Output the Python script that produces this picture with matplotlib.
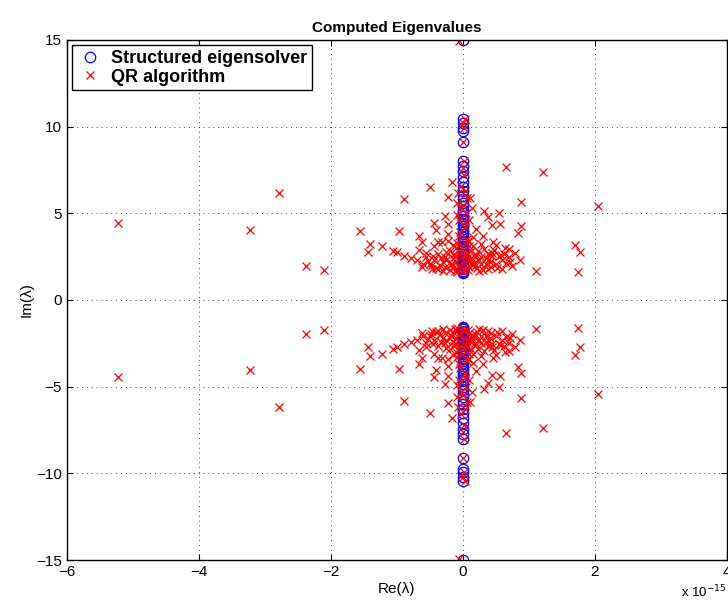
import numpy as np
import matplotlib
matplotlib.use('Agg')
import matplotlib.pyplot as plt

plt.rcParams['font.family'] = ['Liberation Sans', 'DejaVu Sans']

# structured eigensolver: purely imaginary eigenvalues (upper half, conjugates added below)
struct_im = [15.0, 10.45, 10.2, 9.9, 9.75, 9.1, 8.0, 7.75, 7.45, 7.1, 6.8, 6.5, 6.3,
             6.0, 5.8, 5.6, 5.4, 5.2, 5.0, 4.85, 4.7, 4.55, 4.4, 4.25, 4.1, 3.95,
             3.8, 3.65, 3.5, 3.38, 3.25, 3.12, 3.0, 2.88, 2.76, 2.65, 2.54, 2.43,
             2.33, 2.23, 2.13, 2.03, 1.94, 1.85, 1.77, 1.69, 1.62, 1.56]

# QR algorithm eigenvalues, upper half (real part in units of 1e-15)
qr_re = [-5.23, -3.22, -2.78, -2.37, -2.11, -1.56, -1.41, -1.44, -1.23, -1.06, -1.0, -0.96,
         -0.5, -0.89, -0.17, -0.23, -0.07, -0.09, -0.27, -0.22, -0.43, -0.40, -0.67, -0.61,
         -0.22, -0.23, -0.37, -0.89, -0.78, -0.67, -0.55, -0.43, -0.32, -0.62, -0.47, -0.43,
         -0.27, -0.27, -0.17, -0.13, -0.37,
         0.89, 0.33, 0.55, 0.39, 0.44, 0.56, 0.14, 0.11, 0.89, 0.84, 0.30, 0.16, 0.46, 0.28,
         0.64, 0.70, 0.48, 0.23, 0.63, 0.38, 0.18, 0.87, 0.59, 0.42, 0.28, 0.18, 0.38, 0.08,
         1.11, 0.43, 1.22, 2.05, 1.70, 1.78, 1.75, 0.66, -0.06, 0.03,
         0.0, 0.02, 0.0, 0.02, 0.0, 0.02, -0.02, 0.03, 0.0, 0.05, -0.05, 0.04, -0.04, 0.06,
         0.0, -0.06, 0.05, -0.03, 0.04, -0.05, 0.02, 0.0, -0.1, 0.1, -0.12, 0.12, -0.08, 0.1,
         -0.1, 0.14, -0.15,
         -0.3, -0.2, -0.35, -0.5, -0.25, -0.15, -0.4, -0.3, -0.55, -0.7, -0.2, -0.1, -0.45,
         -0.6, -0.08,
         0.25, 0.3, 0.5, 0.55, 0.2, 0.35, 0.7, 0.75, 0.22, 0.45, 0.12, 0.6, 0.8, 0.33, 0.5,
         0.15, 0.2, 0.1,
         -0.18, -0.33, -0.48, -0.12, -0.05, 0.07, 0.17, 0.27, 0.4, 0.52, 0.65, 0.36, 0.09,
         -0.26, -0.38, -0.52, 0.06, -0.04, 0.13, 0.24, 0.44, 0.58, 0.72, -0.14, -0.06, 0.08,
         0.03, -0.02, 0.07, -0.08]
qr_im = [4.47, 4.05, 6.17, 1.98, 1.71, 4.0, 3.24, 2.74, 3.12, 2.84, 2.74, 4.0,
         6.5, 5.85, 6.82, 5.92, 6.19, 5.58, 4.87, 4.39, 4.43, 4.04, 3.7, 3.32,
         3.81, 3.43, 3.35, 2.51, 2.44, 2.86, 2.47, 3.09, 3.32, 1.9, 1.78, 2.28,
         2.47, 1.9, 2.09, 2.67, 2.67,
         5.65, 5.16, 5.0, 4.77, 4.35, 4.39, 5.31, 5.88, 4.24, 3.85, 3.7, 3.62, 3.36, 3.24,
         3.01, 2.93, 2.9, 2.82, 2.63, 2.63, 2.47, 2.28, 2.28, 2.17, 2.09, 1.94, 1.78, 1.71,
         1.67, 1.9, 7.41, 5.43, 3.2, 2.74, 1.63, 7.70, 14.96, 10.43,
         10.2, 9.9, 9.1, 8.0, 7.6, 7.2, 6.6, 6.3, 5.5, 5.0, 4.6, 4.2, 3.9, 3.5,
         3.1, 2.9, 2.6, 2.4, 2.2, 2.0, 1.8, 1.6, 1.75, 2.3, 2.5, 2.8, 3.3, 3.1,
         2.2, 2.0, 1.85,
         2.2, 1.75, 2.0, 2.1, 2.3, 2.4, 1.85, 1.65, 2.7, 2.3, 2.85, 3.0, 2.55,
         2.05, 1.6,
         2.3, 1.75, 2.05, 2.55, 2.6, 2.45, 2.5, 1.95, 1.85, 2.7, 2.15, 1.8, 2.7, 2.95, 3.15,
         3.1, 4.1, 4.6,
         2.05, 2.4, 1.95, 1.7, 1.95, 2.45, 2.15, 2.5, 2.35, 1.85, 2.15, 2.05, 1.9,
         2.75, 1.8, 2.25, 2.7, 2.65, 2.4, 1.65, 2.55, 2.6, 2.2, 3.2, 3.7, 3.4,
         4.5, 5.3, 5.9, 4.9]

# conjugate pairs
s_im = np.array(struct_im)
s_x = np.zeros(2 * len(s_im))
s_y = np.concatenate([s_im, -s_im])
q_x = np.concatenate([qr_re, qr_re])
q_y = np.concatenate([qr_im, -np.array(qr_im)])

fig = plt.figure(figsize=(7.28, 6.03), dpi=100)
ax = fig.add_axes([0.092, 0.0713, 0.906, 0.8624])

ax.plot(s_x, s_y, 'o', color='blue', mfc='none', ms=7.5, mew=0.9,
        label='Structured eigensolver')
ax.plot(q_x, q_y, 'x', color='red', ms=5.5, mew=0.9, label='QR algorithm')

ax.set_xlim(-6, 4)
ax.set_ylim(-15, 15)
ax.set_xticks([-6, -4, -2, 0, 2, 4])
ax.set_yticks([-15, -10, -5, 0, 5, 10, 15])
ax.set_xticklabels(['\u22126', '\u22124', '\u22122', '0', '2', '4'])
ax.set_yticklabels(['\u221215', '\u221210', '\u22125', '0', '5', '10', '15'])
ax.tick_params(direction='in', top=True, right=True, labelsize=11, length=4)
ax.grid(True, linestyle=(0, (1, 4)), color='#444444', linewidth=0.7)
for s in ax.spines.values():
    s.set_linewidth(1.0)

ax.set_title('Computed Eigenvalues', fontsize=11, fontweight='bold', pad=6)
ax.set_xlabel('Re(\u03bb)', fontsize=11, labelpad=2)
ax.set_ylabel('Im(\u03bb)', fontsize=11, labelpad=2)
fig.text(0.936, 0.005, 'x 10$^{-15}$', fontsize=9.5, ha='left', va='bottom')

leg = ax.legend(loc='upper left', fancybox=False, framealpha=1, edgecolor='black',
                prop={'weight': 'bold', 'size': 13}, borderaxespad=0.3,
                handlelength=1.4, handletextpad=0.5, borderpad=0.25, labelspacing=0.1)
leg.get_frame().set_linewidth(1.0)

fig.savefig('out.png', dpi=100)
